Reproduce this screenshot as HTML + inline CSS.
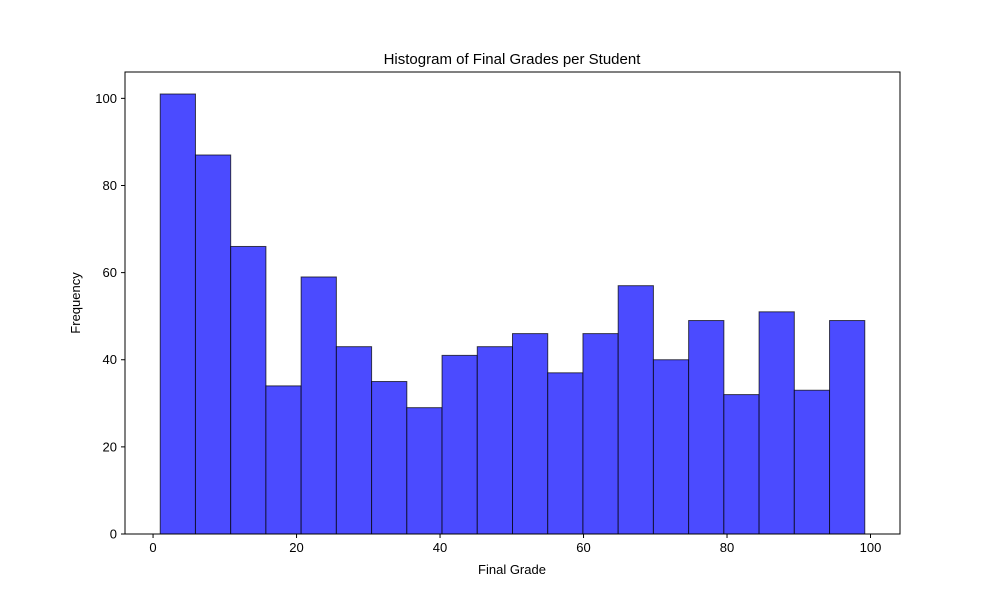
<!DOCTYPE html>
<html><head><meta charset="utf-8"><style>body{margin:0;background:#fff}svg{font-family:"Liberation Sans","DejaVu Sans",sans-serif}</style></head>
<body>
<svg id="chart" width="1000" height="600">
<rect width="1000" height="600" fill="#fff"/>
<text x="512" y="64" font-size="15" text-anchor="middle">Histogram of Final Grades per Student</text>
<g id="bars"></g><g id="xt"></g><g id="yt"></g>
<rect x="125" y="72" width="775" height="462" fill="none" stroke="#000" stroke-width="1"/>
<text x="512" y="574" font-size="13" text-anchor="middle">Final Grade</text>
<text transform="translate(80,303) rotate(-90)" font-size="13" text-anchor="middle">Frequency</text>
</svg>
<script>
const counts=[101,87,66,34,59,43,35,29,41,43,46,37,46,57,40,49,32,51,33,49];
const binStart=1.0;
const binEnd=99.2;
const xTicks=[0,20,40,60,80,100];
const yTicks=[0,20,40,60,80,100];
const NS="http://www.w3.org/2000/svg";
const L=125,R=900,T=72,B=534;
const span=binEnd-binStart,x0=binStart-span*0.05,x1=binEnd+span*0.05;
const ymax=Math.max(...counts)*1.05;
const X=v=>L+(v-x0)/(x1-x0)*(R-L);
const Y=v=>B-v/ymax*(B-T);
const bw=span/counts.length;
const bars=document.getElementById('bars');
counts.forEach((c,i)=>{
 const r=document.createElementNS(NS,'rect');
 const a=X(binStart+i*bw),b=X(binStart+(i+1)*bw);
 r.setAttribute('x',a);r.setAttribute('y',Y(c));r.setAttribute('width',b-a);r.setAttribute('height',Y(0)-Y(c));
 r.setAttribute('fill','#4b4bff');r.setAttribute('stroke','rgba(0,0,0,0.7)');r.setAttribute('stroke-width','1');
 
 
 bars.appendChild(r);
});
const xt=document.getElementById('xt');
xTicks.forEach(t=>{
 const x=X(t);
 const l=document.createElementNS(NS,'line');
 l.setAttribute('x1',x);l.setAttribute('x2',x);l.setAttribute('y1',B);l.setAttribute('y2',B+4);l.setAttribute('stroke','#000');
 
 
 xt.appendChild(l);
 const s=document.createElementNS(NS,'text');
 s.setAttribute('x',x);s.setAttribute('y',B+18);s.setAttribute('font-size','13');s.setAttribute('text-anchor','middle');s.textContent=t;
 
 
 xt.appendChild(s);
});
const yt=document.getElementById('yt');
yTicks.forEach(t=>{
 const y=Y(t);
 const l=document.createElementNS(NS,'line');
 l.setAttribute('x1',L-4);l.setAttribute('x2',L);l.setAttribute('y1',y);l.setAttribute('y2',y);l.setAttribute('stroke','#000');
 
 
 yt.appendChild(l);
 const s=document.createElementNS(NS,'text');
 s.setAttribute('x',L-8);s.setAttribute('y',y+4.5);s.setAttribute('font-size','13');s.setAttribute('text-anchor','end');s.textContent=t;
 
 
 yt.appendChild(s);
});
</script>
</body></html>
